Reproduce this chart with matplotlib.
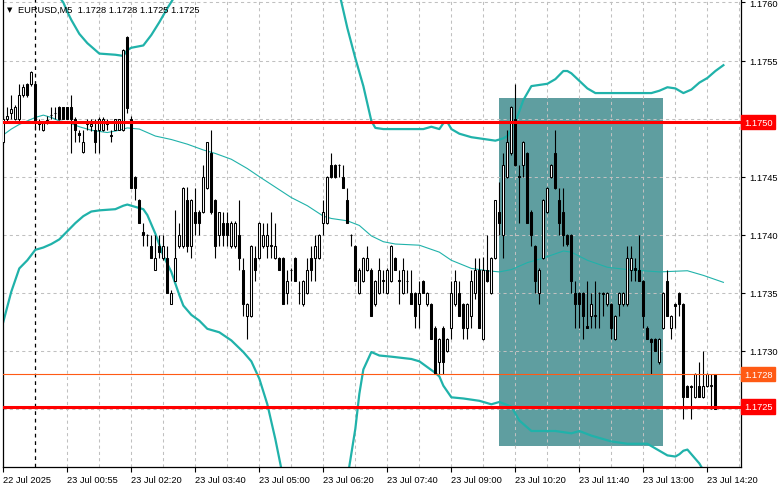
import matplotlib
matplotlib.use("Agg")
import matplotlib.pyplot as plt
from matplotlib.patches import Rectangle
from matplotlib.transforms import blended_transform_factory

# EURUSD M5 candles, bar index 0..178
opens = [
    1.17480, 1.17500, 1.17505, 1.17500, 1.17500, 1.17520, 1.17530, 1.17530, 1.17530, 1.17497,
    1.17490, 1.17498, 1.17503, 1.17505, 1.17510, 1.17510, 1.17510, 1.17510, 1.17500, 1.17488,
    1.17471, 1.17495, 1.17494, 1.17490, 1.17490, 1.17490, 1.17495, 1.17486, 1.17490, 1.17490,
    1.17490, 1.17570, 1.17500, 1.17450, 1.17430, 1.17402, 1.17400, 1.17390, 1.17370, 1.17390,
    1.17380, 1.17380, 1.17340, 1.17360, 1.17390, 1.17390, 1.17430, 1.17390, 1.17420, 1.17420,
    1.17420, 1.17440, 1.17470, 1.17430, 1.17400, 1.17410, 1.17410, 1.17390, 1.17390, 1.17400,
    1.17370, 1.17330, 1.17330, 1.17380, 1.17380, 1.17390, 1.17390, 1.17391, 1.17380, 1.17380,
    1.17380, 1.17350, 1.17370, 1.17380, 1.17350, 1.17340, 1.17350, 1.17380, 1.17380, 1.17380,
    1.17410, 1.17410, 1.17460, 1.17460, 1.17460, 1.17450, 1.17430, 1.17400, 1.17390, 1.17350,
    1.17360, 1.17370, 1.17370, 1.17340, 1.17350, 1.17360, 1.17350, 1.17360, 1.17380, 1.17360,
    1.17350, 1.17360, 1.17350, 1.17350, 1.17340, 1.17360, 1.17340, 1.17340, 1.17320, 1.17290,
    1.17320, 1.17300, 1.17320, 1.17340, 1.17350, 1.17340, 1.17320, 1.17330, 1.17350, 1.17370,
    1.17310, 1.17370, 1.17350, 1.17380, 1.17420, 1.17400, 1.17450, 1.17470, 1.17500, 1.17451,
    1.17460, 1.17470, 1.17420, 1.17390, 1.17350, 1.17380, 1.17420, 1.17450, 1.17470, 1.17430,
    1.17420, 1.17400, 1.17400, 1.17350, 1.17350, 1.17350, 1.17321, 1.17330, 1.17330, 1.17350,
    1.17350, 1.17340, 1.17340, 1.17310, 1.17340, 1.17340, 1.17340, 1.17370, 1.17371, 1.17370,
    1.17360, 1.17320, 1.17310, 1.17310, 1.17290, 1.17320, 1.17360, 1.17320, 1.17340, 1.17350,
    1.17340, 1.17270, 1.17270, 1.17260, 1.17270, 1.17260, 1.17270, 1.17270, 1.17280,
]
highs = [
    1.17502, 1.17510, 1.17520, 1.17512, 1.17530, 1.17530, 1.17531, 1.17541, 1.17532, 1.17500,
    1.17497, 1.17502, 1.17510, 1.17510, 1.17511, 1.17510, 1.17510, 1.17520, 1.17501, 1.17490,
    1.17490, 1.17500, 1.17500, 1.17500, 1.17501, 1.17501, 1.17500, 1.17490, 1.17500, 1.17500,
    1.17560, 1.17571, 1.17502, 1.17451, 1.17431, 1.17410, 1.17401, 1.17400, 1.17400, 1.17400,
    1.17400, 1.17390, 1.17352, 1.17421, 1.17410, 1.17441, 1.17441, 1.17431, 1.17440, 1.17421,
    1.17460, 1.17480, 1.17490, 1.17431, 1.17420, 1.17420, 1.17420, 1.17412, 1.17412, 1.17430,
    1.17380, 1.17341, 1.17391, 1.17390, 1.17411, 1.17410, 1.17410, 1.17420, 1.17410, 1.17381,
    1.17381, 1.17370, 1.17371, 1.17381, 1.17360, 1.17361, 1.17380, 1.17390, 1.17400, 1.17401,
    1.17430, 1.17451, 1.17470, 1.17461, 1.17461, 1.17460, 1.17440, 1.17401, 1.17391, 1.17371,
    1.17381, 1.17390, 1.17371, 1.17361, 1.17380, 1.17370, 1.17371, 1.17391, 1.17381, 1.17370,
    1.17380, 1.17370, 1.17370, 1.17351, 1.17360, 1.17361, 1.17351, 1.17341, 1.17321, 1.17311,
    1.17321, 1.17311, 1.17360, 1.17370, 1.17360, 1.17341, 1.17341, 1.17370, 1.17380, 1.17380,
    1.17381, 1.17400, 1.17381, 1.17430, 1.17445, 1.17470, 1.17490, 1.17511, 1.17530, 1.17460,
    1.17481, 1.17471, 1.17421, 1.17391, 1.17371, 1.17431, 1.17441, 1.17461, 1.17490, 1.17440,
    1.17440, 1.17401, 1.17401, 1.17360, 1.17351, 1.17351, 1.17360, 1.17350, 1.17360, 1.17351,
    1.17351, 1.17351, 1.17341, 1.17331, 1.17351, 1.17351, 1.17390, 1.17390, 1.17380, 1.17400,
    1.17361, 1.17321, 1.17311, 1.17311, 1.17311, 1.17351, 1.17370, 1.17331, 1.17341, 1.17351,
    1.17341, 1.17271, 1.17271, 1.17281, 1.17290, 1.17300, 1.17281, 1.17280, 1.17280,
]
lows = [
    1.17478, 1.17498, 1.17500, 1.17499, 1.17498, 1.17519, 1.17519, 1.17528, 1.17490, 1.17490,
    1.17489, 1.17495, 1.17500, 1.17500, 1.17499, 1.17500, 1.17500, 1.17470, 1.17480, 1.17480,
    1.17470, 1.17490, 1.17489, 1.17470, 1.17470, 1.17489, 1.17490, 1.17480, 1.17490, 1.17490,
    1.17489, 1.17505, 1.17440, 1.17430, 1.17410, 1.17390, 1.17390, 1.17380, 1.17370, 1.17380,
    1.17378, 1.17350, 1.17340, 1.17360, 1.17389, 1.17389, 1.17385, 1.17380, 1.17400, 1.17400,
    1.17419, 1.17439, 1.17418, 1.17380, 1.17390, 1.17390, 1.17390, 1.17389, 1.17389, 1.17370,
    1.17330, 1.17310, 1.17329, 1.17360, 1.17379, 1.17389, 1.17380, 1.17380, 1.17379, 1.17370,
    1.17340, 1.17340, 1.17360, 1.17360, 1.17340, 1.17339, 1.17349, 1.17360, 1.17360, 1.17379,
    1.17400, 1.17409, 1.17449, 1.17449, 1.17450, 1.17440, 1.17410, 1.17390, 1.17360, 1.17349,
    1.17359, 1.17369, 1.17330, 1.17339, 1.17349, 1.17350, 1.17349, 1.17359, 1.17370, 1.17340,
    1.17349, 1.17350, 1.17340, 1.17320, 1.17320, 1.17350, 1.17339, 1.17310, 1.17280, 1.17280,
    1.17280, 1.17299, 1.17310, 1.17339, 1.17330, 1.17310, 1.17310, 1.17320, 1.17345, 1.17320,
    1.17309, 1.17359, 1.17349, 1.17379, 1.17400, 1.17380, 1.17449, 1.17469, 1.17459, 1.17410,
    1.17450, 1.17410, 1.17390, 1.17350, 1.17340, 1.17379, 1.17419, 1.17449, 1.17439, 1.17400,
    1.17390, 1.17390, 1.17350, 1.17320, 1.17320, 1.17310, 1.17320, 1.17320, 1.17320, 1.17320,
    1.17330, 1.17339, 1.17310, 1.17309, 1.17330, 1.17339, 1.17339, 1.17360, 1.17360, 1.17360,
    1.17320, 1.17310, 1.17280, 1.17300, 1.17289, 1.17319, 1.17330, 1.17310, 1.17320, 1.17330,
    1.17241, 1.17260, 1.17241, 1.17259, 1.17260, 1.17259, 1.17269, 1.17250, 1.17250,
]
closes = [
    1.17500, 1.17502, 1.17508, 1.17510, 1.17520, 1.17527, 1.17520, 1.17540, 1.17497, 1.17495,
    1.17496, 1.17499, 1.17503, 1.17505, 1.17500, 1.17500, 1.17500, 1.17500, 1.17490, 1.17486,
    1.17480, 1.17496, 1.17495, 1.17480, 1.17500, 1.17500, 1.17496, 1.17485, 1.17500, 1.17500,
    1.17559, 1.17509, 1.17440, 1.17440, 1.17410, 1.17400, 1.17400, 1.17380, 1.17380, 1.17385,
    1.17390, 1.17350, 1.17350, 1.17380, 1.17400, 1.17440, 1.17390, 1.17430, 1.17410, 1.17410,
    1.17450, 1.17480, 1.17420, 1.17390, 1.17420, 1.17400, 1.17400, 1.17410, 1.17410, 1.17380,
    1.17340, 1.17340, 1.17390, 1.17370, 1.17410, 1.17400, 1.17400, 1.17390, 1.17390, 1.17370,
    1.17340, 1.17360, 1.17370, 1.17360, 1.17350, 1.17360, 1.17370, 1.17370, 1.17390, 1.17400,
    1.17420, 1.17450, 1.17450, 1.17450, 1.17460, 1.17440, 1.17410, 1.17400, 1.17360, 1.17370,
    1.17380, 1.17380, 1.17330, 1.17360, 1.17370, 1.17361, 1.17370, 1.17390, 1.17370, 1.17361,
    1.17370, 1.17360, 1.17340, 1.17330, 1.17350, 1.17350, 1.17350, 1.17310, 1.17280, 1.17310,
    1.17290, 1.17310, 1.17350, 1.17360, 1.17330, 1.17320, 1.17340, 1.17360, 1.17370, 1.17320,
    1.17370, 1.17360, 1.17380, 1.17430, 1.17410, 1.17460, 1.17480, 1.17510, 1.17460, 1.17450,
    1.17480, 1.17410, 1.17400, 1.17360, 1.17370, 1.17430, 1.17440, 1.17460, 1.17440, 1.17410,
    1.17400, 1.17392, 1.17360, 1.17340, 1.17340, 1.17330, 1.17320, 1.17340, 1.17331, 1.17350,
    1.17349, 1.17350, 1.17320, 1.17330, 1.17350, 1.17350, 1.17380, 1.17380, 1.17370, 1.17360,
    1.17330, 1.17310, 1.17308, 1.17300, 1.17310, 1.17350, 1.17330, 1.17330, 1.17339, 1.17340,
    1.17260, 1.17260, 1.17269, 1.17280, 1.17260, 1.17270, 1.17280, 1.17271, 1.17250,
]

# Bollinger-style envelope (bar index -> price)
upper_idx = [8, 12, 15, 16, 17, 19, 21, 23, 24, 28, 30, 31, 32, 35, 37, 39, 41, 43, 46, 50,
             70, 80, 84, 86, 88, 90, 92, 93, 95, 105, 107, 109, 110, 111, 112, 114, 117, 119,
             123, 125, 126, 128, 130, 132, 134, 136, 138, 140, 141, 142, 146, 148, 162, 164,
             166, 168, 170, 172, 174, 176, 178, 180]
upper_val = [1.17629, 1.17614, 1.17600, 1.17592, 1.17585, 1.17573, 1.17565, 1.17559, 1.17556,
             1.17555, 1.17554, 1.17559, 1.17561, 1.17563, 1.17572, 1.17583, 1.17595, 1.17606,
             1.17625, 1.17655, 1.17672, 1.17638, 1.17608, 1.17578, 1.17552, 1.17528, 1.17498,
             1.17492, 1.17491, 1.17491, 1.17493, 1.17491, 1.17496, 1.17497, 1.17491, 1.17487,
             1.17484, 1.17483, 1.17481, 1.17483, 1.17485, 1.17497, 1.17516, 1.17528, 1.17529,
             1.17530, 1.17534, 1.17541, 1.17541, 1.17539, 1.17526, 1.17522, 1.17522, 1.17524,
             1.17527, 1.17526, 1.17522, 1.17525, 1.17531, 1.17535, 1.17541, 1.17546]
lower_idx = [0, 2, 4, 6, 8, 10, 12, 14, 16, 18, 20, 22, 24, 28, 30, 31, 33, 35, 36, 38, 40,
             42, 44, 45, 47, 49, 51, 54, 57, 60, 62, 64, 66, 68, 70, 80, 86, 88, 89, 90, 92,
             94, 97, 102, 104, 106, 108, 109, 110, 112, 115, 119, 122, 124, 127, 129, 132,
             138, 142, 144, 147, 152, 156, 161, 164, 166, 168, 169, 170, 171, 172, 174, 176,
             178, 180]
lower_val = [1.17325, 1.17351, 1.17371, 1.17378, 1.17387, 1.17389, 1.17392, 1.17396, 1.17403,
             1.17410, 1.17416, 1.17420, 1.17421, 1.17422, 1.17425, 1.17426, 1.17424, 1.17422,
             1.17417, 1.17401, 1.17382, 1.17368, 1.17348, 1.17339, 1.17331, 1.17326, 1.17319,
             1.17316, 1.17309, 1.17299, 1.17291, 1.17276, 1.17254, 1.17224, 1.17190, 1.17155,
             1.17190, 1.17233, 1.17263, 1.17284, 1.17299, 1.17296, 1.17295, 1.17293, 1.17291,
             1.17286, 1.17281, 1.17278, 1.17270, 1.17260, 1.17259, 1.17257, 1.17254, 1.17256,
             1.17252, 1.17240, 1.17231, 1.17231, 1.17229, 1.17231, 1.17227, 1.17222, 1.17220,
             1.17220, 1.17214, 1.17210, 1.17209, 1.17211, 1.17214, 1.17215, 1.17211, 1.17203,
             1.17191, 1.17181, 1.17172]
ma_idx = [0, 2, 4, 6, 8, 10, 12, 14, 16, 19, 22, 26, 29, 31, 34, 38, 42, 46, 50, 53, 57, 61,
          64, 68, 72, 76, 80, 82, 86, 89, 92, 95, 98, 104, 109, 112, 117, 121, 124, 127, 131,
          135, 140, 142, 146, 151, 156, 164, 171, 175, 180]
ma_val = [1.17486, 1.17491, 1.17495, 1.17498, 1.17501, 1.17503, 1.17501, 1.17498, 1.17497,
          1.17493, 1.17490, 1.17488, 1.17490, 1.17492, 1.17491, 1.17485, 1.17482, 1.17478,
          1.17473, 1.17470, 1.17465, 1.17457, 1.17450, 1.17441, 1.17432, 1.17425, 1.17416,
          1.17414, 1.17412, 1.17408, 1.17399, 1.17394, 1.17392, 1.17391, 1.17385, 1.17378,
          1.17371, 1.17369, 1.17368, 1.17370, 1.17376, 1.17380, 1.17386, 1.17385, 1.17378,
          1.17372, 1.17370, 1.17368, 1.17369, 1.17365, 1.17359]

# horizontal levels and the shaded zone
level_lines = [1.17497, 1.17252]
bid_price = 1.1728
zone_bars = [124, 165]
zone_prices = [1.17218, 1.17518]

x_tick_pos = [0, 16, 32, 48, 64, 80, 96, 112, 128, 144, 160, 176]
x_tick_labels = ["22 Jul 2025", "23 Jul 00:55", "23 Jul 02:20", "23 Jul 03:40",
                 "23 Jul 05:00", "23 Jul 06:20", "23 Jul 07:40", "23 Jul 09:00",
                 "23 Jul 10:20", "23 Jul 11:40", "23 Jul 13:00", "23 Jul 14:20"]
y_ticks = [1.1725, 1.1730, 1.1735, 1.1740, 1.1745, 1.1750, 1.1755, 1.1760]
title_text = "EURUSD,M5  1.1728 1.1728 1.1725 1.1725"

FONT = "Liberation Sans"
FS = 6.7
TEAL = "#20b2aa"

fig = plt.figure(figsize=(7.81, 4.89), dpi=100)
ax = fig.add_axes([3 / 781, 21 / 489, 738 / 781, 468 / 489])
ax.set_xlim(-0.075, 184.4)
ax.set_ylim(1.1720, 1.17603)

# grid
for p in y_ticks:
    ax.axhline(p, color="#c0c0c0", lw=0.75, ls=(0, (3, 3)), zorder=1)
for g in range(16, 185, 8):
    ax.axvline(g, color="#c0c0c0", lw=0.75, ls=(0, (3, 3)), zorder=1)
ax.axvline(8, color="black", lw=0.9, ls=(0, (3, 3)), zorder=1.5)  # day separator

# shaded rectangle
ax.add_patch(Rectangle((zone_bars[0], zone_prices[0]), zone_bars[1] - zone_bars[0],
                       zone_prices[1] - zone_prices[0], facecolor="#5f9ea0",
                       edgecolor="none", zorder=0.5))

# indicator lines
ax.plot(upper_idx, upper_val, color=TEAL, lw=1.6, zorder=2)
ax.plot(lower_idx, lower_val, color=TEAL, lw=1.6, zorder=2)
ax.plot(ma_idx, ma_val, color=TEAL, lw=0.8, zorder=2)

# candles
idx = list(range(len(opens)))
ax.vlines(idx, lows, highs, color="black", lw=0.8, zorder=3)
for i, (o, c) in enumerate(zip(opens, closes)):
    fc = "white" if c >= o else "black"
    ax.bar(i, abs(c - o), bottom=min(o, c), width=0.55, facecolor=fc,
           edgecolor="black", lw=0.75, zorder=4)

# level lines
for lv in level_lines:
    ax.axhline(lv, color="#ff0000", lw=2.2, zorder=5)
ax.axhline(bid_price, color="#ff5a14", lw=0.8, zorder=5)

# axes styling
ax.spines["top"].set_visible(False)
for s in ["left", "right", "bottom"]:
    ax.spines[s].set_linewidth(0.9)
ax.yaxis.tick_right()
ax.set_yticks(y_ticks)
# values under the red price tags are hidden by the tags
tagged = [f"{v:.4f}" for v in level_lines]
ax.set_yticklabels(["" if f"{v:.4f}" in tagged else f"{v:.4f}" for v in y_ticks],
                   fontfamily=FONT, fontsize=FS)
ax.set_xticks(x_tick_pos)
ax.set_xticklabels(x_tick_labels, fontfamily=FONT, fontsize=FS)
for lbl in ax.get_xticklabels():
    lbl.set_horizontalalignment("left")
ax.tick_params(axis="x", length=3.5, width=0.8, pad=2)
ax.tick_params(axis="y", length=3, width=0.8, pad=3)

# price tags on the right axis
tr = blended_transform_factory(ax.transAxes, ax.transData)
for lv, col in [(level_lines[0], "#ff0000"), (level_lines[1], "#ff0000"), (bid_price, "#ff5a14")]:
    ax.text(1.004, lv, f"{lv:.4f}", transform=tr, ha="left", va="center", color="white",
            fontfamily=FONT, fontsize=FS, clip_on=False, zorder=10,
            bbox=dict(boxstyle="square,pad=0.3", facecolor=col, edgecolor=col))

# header
fig.text(7 / 781, 1 - 10 / 489, "\u25bc", fontsize=5, family="DejaVu Sans", va="center")
fig.text(18 / 781, 1 - 10 / 489, title_text, fontsize=FS, family=FONT, va="center")

fig.savefig("out.png", dpi=100)
